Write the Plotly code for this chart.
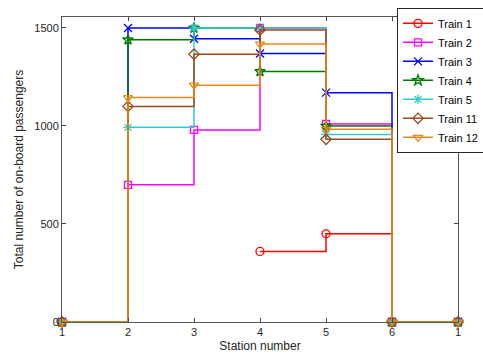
import plotly.graph_objects as go

stations = [1, 2, 3, 4, 5, 6, 7]
tick_labels = ["1", "2", "3", "4", "5", "6", "1"]

names = ["Train 1", "Train 2", "Train 3", "Train 4", "Train 5", "Train 11", "Train 12"]
train1 = [0, None, None, 360, 450, 0, 0]
train2 = [0, 700, 980, 1500, 1010, 0, 0]
train3 = [0, 1500, 1445, 1370, 1170, 0, 0]
train4 = [0, 1440, 1500, 1278, 1000, 0, 0]
train5 = [0, 993, 1500, 1500, 957, 0, 0]
train11 = [0, 1100, 1366, 1490, 932, 0, 0]
train12 = [0, 1145, 1208, 1418, 983, 0, 0]
series = [train1, train2, train3, train4, train5, train11, train12]

colors = ["#ff0000", "#ff00ff", "#0000ff", "#007a00", "#33cccc", "#9c4a1a", "#e6891e"]
symbols = ["circle-open", "square-open", "x-thin-open", "star-open",
           "asterisk-open", "diamond-open", "triangle-down-open"]
sizes = [8, 7, 8, 8, 8, 8, 8]

fig = go.Figure()
for name, ys, c, s, sz in zip(names, series, colors, symbols, sizes):
    fig.add_trace(go.Scatter(
        x=stations, y=ys, name=name, mode="lines+markers",
        line=dict(color=c, width=1.5, shape="hv"),
        marker=dict(symbol=s, size=sz, color=c, line=dict(color=c, width=1.3)),
        connectgaps=False, cliponaxis=False,
    ))

axis_common = dict(
    showgrid=False, zeroline=False, showline=True, linecolor="#555555", linewidth=1,
    mirror="ticks", ticks="inside", ticklen=4, tickcolor="#444444",
    tickfont=dict(family="Liberation Sans, Arial, sans-serif", size=11, color="#262626"),
    automargin=False,
)
fig.update_xaxes(range=[1, 7], tickvals=stations, ticktext=tick_labels,
                 title=dict(text="Station number", standoff=4,
                            font=dict(family="Liberation Sans, Arial, sans-serif", size=12, color="#262626")),
                 **axis_common)
fig.update_yaxes(range=[0, 1556], tickvals=[0, 500, 1000, 1500],
                 title=dict(text="Total number of on-board passengers", standoff=8,
                            font=dict(family="Liberation Sans, Arial, sans-serif", size=12, color="#262626")),
                 **axis_common)

fig.update_layout(
    width=483, height=360, plot_bgcolor="white", paper_bgcolor="white",
    margin=dict(l=62, r=25, t=17, b=38, autoexpand=False),
    font=dict(family="Liberation Sans, Arial, sans-serif", color="#262626"),
    legend=dict(x=0.846, y=1.03, xanchor="left", yanchor="top",
                bgcolor="white", bordercolor="#262626", borderwidth=1,
                font=dict(size=11, color="#000000"), itemwidth=30,
                tracegroupgap=0),
)

fig.write_html("out.html")
